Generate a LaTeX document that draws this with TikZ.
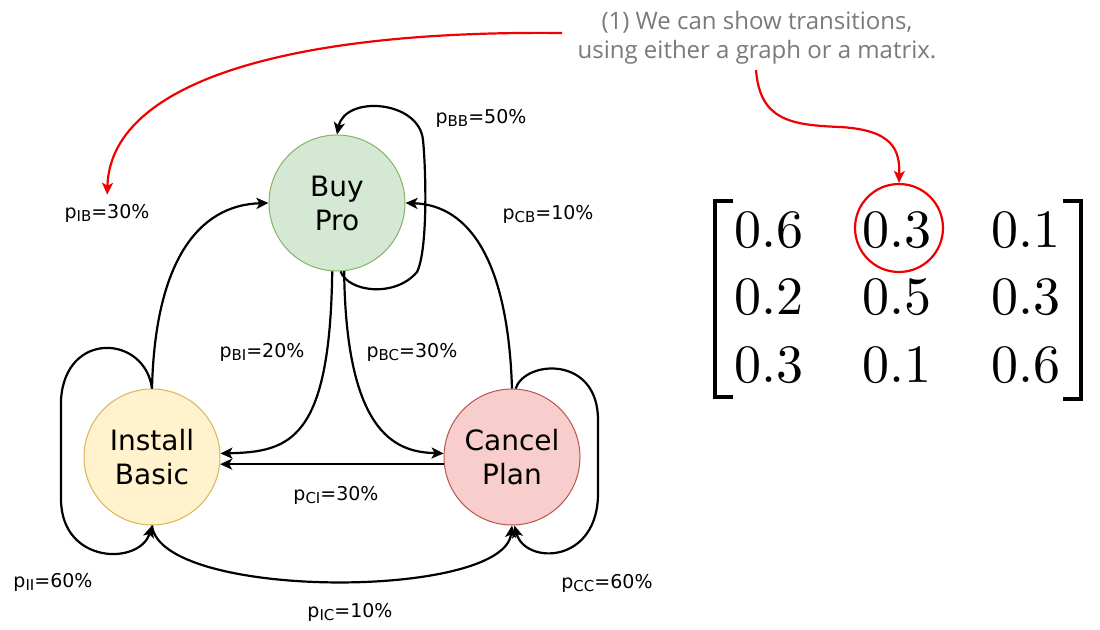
\documentclass[tikz,border=0pt]{standalone}
\usepackage{fontspec}
\usepackage{graphicx}
\newfontfamily\sansf{DejaVu Sans}
\newfontfamily\annf{Open Sans}
\usetikzlibrary{arrows.meta}
\definecolor{bpfill}{HTML}{D5E8D4}\definecolor{bpdraw}{HTML}{82B366}
\definecolor{ibfill}{HTML}{FFF2CC}\definecolor{ibdraw}{HTML}{D6B656}
\definecolor{cpfill}{HTML}{F8CECC}\definecolor{cpdraw}{HTML}{B85450}
\definecolor{annred}{HTML}{F00000}
\definecolor{anngray}{HTML}{7A7A7A}
\newcommand\pp[2]{p{\fontsize{15}{16}\selectfont\raisebox{-3pt}{#1}}=#2}
\begin{document}
\begin{tikzpicture}[x=1pt,y=-1pt,
  state/.style={circle, minimum size=136pt, inner sep=0pt, line width=1pt, align=center,
    font=\sansf\fontsize{28}{34}\selectfont, text=black},
  edge/.style={line width=2.2pt, -{Stealth[length=12pt,width=11pt,inset=3pt]}},
  lab/.style={font=\sansf\fontsize{19}{22}\selectfont, inner sep=0pt},
  redarr/.style={draw=annred, line width=2.2pt, -{Stealth[length=12pt,width=11pt,inset=3pt]}},
  mnum/.style={inner sep=0pt},
  brk/.style={line width=3.5pt}
]
\useasboundingbox[fill=white] (0,0) rectangle (1100,629);

% states
\node[state, fill=bpfill, draw=bpdraw] (B) at (337,203) {Buy\\Pro};
\node[state, fill=ibfill, draw=ibdraw] (I) at (152,457) {Install\\Basic};
\node[state, fill=cpfill, draw=cpdraw] (C) at (512,457) {Cancel\\Plan};

% labels
\node[lab] (lBB) at (481,118) {\pp{BB}{50\%}};
\node[lab] (lIB) at (107,213) {\pp{IB}{30\%}};
\node[lab] (lCB) at (548,214) {\pp{CB}{10\%}};
\node[lab] (lBI) at (262,352) {\pp{BI}{20\%}};
\node[lab] (lBC) at (412,352) {\pp{BC}{30\%}};
\node[lab] (lCI) at (336,495) {\pp{CI}{30\%}};
\node[lab] (lII) at (53,582) {\pp{II}{60\%}};
\node[lab] (lCC) at (607,583) {\pp{CC}{60\%}};
\node[lab] (lIC) at (350,612) {\pp{IC}{10\%}};

% transitions
\draw[edge] (B.-87) .. controls (348,292) and (395,298) .. (417,272)
  .. controls (428,250) and (426,170) .. (423,140)
  .. controls (419,100) and (345,95) .. (B.north);
\draw[edge] (I.north) .. controls (155,262) and (198,205) .. (B.west);
\draw[edge] (C.north) .. controls (508,262) and (470,205) .. (B.east);
\draw[edge] (B.-94) .. controls (330,440) and (290,452) .. (I.3);
\draw[edge] (B.-84) .. controls (346,440) and (400,452) .. (C.177);
\draw[edge] (C.186) -- (I.-6);
\draw[edge] (I.south) .. controls (160,600) and (504,600) .. (C.south);
\draw[edge] (I.north) .. controls (145,335) and (65,330) .. (61,400) -- (61,500)
  .. controls (62,565) and (140,565) .. (I.south);
\draw[edge] (C.87) .. controls (525,360) and (598,355) .. (598,420) -- (598,490)
  .. controls (600,565) and (525,565) .. (C.-88);

% annotation
\node[font=\annf\fontsize{24}{29}\selectfont, text=anngray, align=center, inner sep=0pt] (ann) at (757,38)
  {(1) We can show transitions,\\using either a graph or a matrix.};
\coordinate (a1) at (562,33);
\coordinate (a2) at (756,70);

% matrix
\node[mnum] (m11) at (769,230) {\scalebox{5.4}{0.6}};
\node[mnum] (m12) at (897,230) {\scalebox{5.4}{0.3}};
\node[mnum] (m13) at (1026,230) {\scalebox{5.4}{0.1}};
\node[mnum] (m21) at (769,297) {\scalebox{5.4}{0.2}};
\node[mnum] (m22) at (897,297) {\scalebox{5.4}{0.5}};
\node[mnum] (m23) at (1026,297) {\scalebox{5.4}{0.3}};
\node[mnum] (m31) at (769,365) {\scalebox{5.4}{0.3}};
\node[mnum] (m32) at (897,365) {\scalebox{5.4}{0.1}};
\node[mnum] (m33) at (1026,365) {\scalebox{5.4}{0.6}};
\draw[brk] (733,201) -- (715,201) -- (715,397) -- (733,397);
\draw[brk] (1063,201) -- (1081,201) -- (1081,399) -- (1063,399);
\node[circle, draw=annred, line width=2.2pt, minimum size=88pt, inner sep=0pt] (circ) at (899,228) {};

\draw[redarr, shorten >=9pt] (a1) .. controls (280,30) and (110,85) .. (lIB.north);
\draw[redarr] (a2) .. controls (760,120) and (790,125) .. (840,127)
  .. controls (893,130) and (900,150) .. (circ.north);
\end{tikzpicture}
\end{document}
